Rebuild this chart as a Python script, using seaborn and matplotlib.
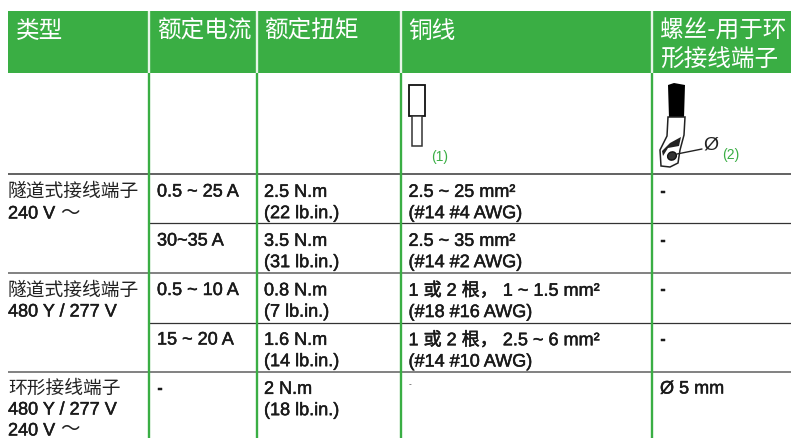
import matplotlib
matplotlib.use('Agg')
import matplotlib.pyplot as plt
import matplotlib.patheffects as pe
from matplotlib.patches import Polygon, Rectangle, Ellipse
import seaborn as sns

header   = ['类型', '额定电流', '额定扭矩', '铜线', '螺丝-用于环\n形接线端子']
types    = ['隧道式接线端子', '240 V', '隧道式接线端子', '480 Y / 277 V', '环形接线端子', '480 Y / 277 V', '240 V']
currents = ['0.5 ~ 25 A', '30~35 A', '0.5 ~ 10 A', '15 ~ 20 A', '-']
torques  = ['2.5 N.m\n(22 lb.in.)', '3.5 N.m\n(31 lb.in.)', '0.8 N.m\n(7 lb.in.)', '1.6 N.m\n(14 lb.in.)', '2 N.m\n(18 lb.in.)']
copper   = ['2.5 ~ 25 mm²\n(#14 #4 AWG)', '2.5 ~ 35 mm²\n(#14 #2 AWG)', '1 或 2 根， 1 ~ 1.5 mm²\n(#18 #16 AWG)',
            '1 或 2 根， 2.5 ~ 6 mm²\n(#14 #10 AWG)']
screws   = ['-', '-', '-', '-', 'Ø 5 mm']

GREEN = '#3aae44'
sns.set_theme(style='white')
plt.rcParams['font.family'] = ['Liberation Sans', 'Noto Sans CJK SC', 'DejaVu Sans']
fig = plt.figure(figsize=(7.91, 4.38), dpi=100)
ax = fig.add_axes([0, 0, 1, 1])
ax.set_xlim(0, 791)
ax.set_ylim(438, 0)
ax.axis('off')

col_x = [8, 148.5, 256.5, 401, 652, 791]
text_x = [157, 264, 408.5, 660]
bold = [pe.withStroke(linewidth=0.35, foreground='#1a1a1a')]

# header band
ax.add_patch(Rectangle((8, 11), 783, 62, color=GREEN, lw=0))
for x in col_x[1:5]:
    ax.plot([x, x], [11, 73], color='#e8f5e8', lw=1.7, solid_capstyle='butt')
    ax.plot([x, x], [73, 438], color=GREEN, lw=1.7, solid_capstyle='butt', zorder=3)
for x, t in zip([16, 157, 264, 408, 660], header):
    ax.text(x, 20, t, color='white', fontsize=17, family=['Noto Sans CJK SC'], weight='light',
            va='top', linespacing=1.3)

# row rules, the thin ones skip the first column
for y, x0, c, w in [(174, 8, '#555555', 1.3), (223, 148.5, '#333333', 0.9), (273, 8, '#777777', 1.3),
                    (323, 148.5, '#333333', 0.9), (372, 8, '#777777', 1.3)]:
    ax.plot([x0, 791], [y, y], color=c, lw=w, solid_capstyle='butt', zorder=2)

def cell(x, y, s, size=13):
    # dashes come out too thin in this font, so they get a bold weight
    ax.text(x, y, s, color='#1a1a1a', fontsize=size, va='center', linespacing=1.33, path_effects=bold,
            weight='bold' if s == '-' else 'normal')

# first column
for y, s in zip([191, 214, 290, 312, 388, 410, 431], types):
    if s[0].isdigit():
        cell(8, y, s)
    else:
        ax.text(8, y, s, color='#222222', fontsize=13.5, family=['Noto Sans CJK SC'], va='center')
for y in [213, 429]:
    ax.text(60, y, '～', color='#222222', fontsize=14, family=['Noto Sans CJK SC'], va='center')

single = [192, 241, 290.5, 340, 389]
for i, y in enumerate(single):
    cell(text_x[0], y, currents[i])
    cell(text_x[1], y + 11, torques[i])
    cell(text_x[3], y, screws[i])
for y, s in zip(single, copper):
    cell(text_x[2], y + 11, s)
ax.text(408.5, 385, '-', color='#333333', fontsize=6, va='center')

# connector sketches
ax.add_patch(Rectangle((409, 84.5), 16, 31.5, fc='white', ec='#111111', lw=1.3))
ax.add_patch(Rectangle((412, 116), 10, 30, fc='white', ec='#333333', lw=1.1))
ax.text(431, 157, '(1)', color=GREEN, fontsize=10, va='center')

ax.add_patch(Polygon([(668, 85), (674, 83), (685, 85), (684, 118), (669, 118)], color='black', lw=0))
ax.add_patch(Polygon([(668, 117), (685, 117), (684, 135), (680, 150), (678, 163), (670, 167), (661, 166),
                      (660, 150), (667, 136)], fc='white', ec='#222222', lw=1.1))
ax.add_patch(Polygon([(662, 151), (670, 143), (681, 137), (679, 146), (668, 148), (663, 156)], color='#222222', lw=0))
ax.add_patch(Ellipse((672, 156), 9, 8, angle=-30, fc='#333333', ec='#111111'))
ax.plot([677, 702], [154, 149], color='#222222', lw=1)
ax.text(703, 145, 'Ø', color='#222222', fontsize=14, va='center')
ax.text(722, 155, '(2)', color=GREEN, fontsize=10, va='center')

fig.savefig('out.png', dpi=100)
